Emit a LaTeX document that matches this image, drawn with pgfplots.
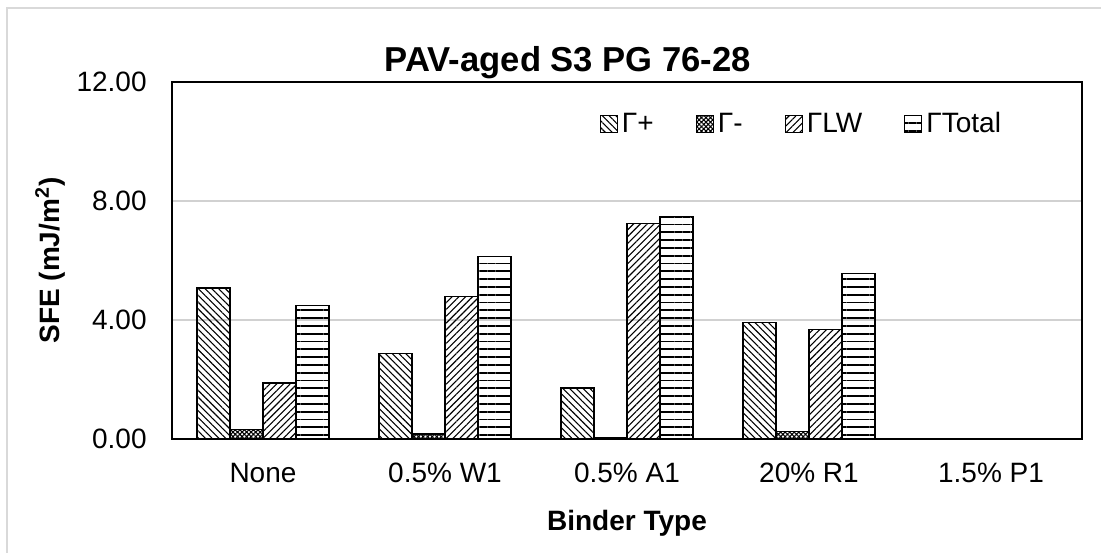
\documentclass[border=0pt]{standalone}
\usepackage{pgfplots}
\pgfplotsset{compat=1.18}
\usepackage{fontspec}
\setmainfont{Liberation Sans}
\usetikzlibrary{patterns.meta}
\begin{document}
\begin{tikzpicture}
\tikzset{
  pplus/.style={pattern={Lines[angle=-45,distance=2.4pt,line width=0.55pt]}},
  pminus/.style={pattern={Hatch[angle=45,distance=1.6pt,line width=0.55pt]}},
  plw/.style={pattern={Lines[angle=45,distance=2.4pt,line width=0.55pt]}},
  ptot/.style={pattern={Lines[angle=0,distance=3.9pt,line width=0.9pt]}},
}
\begin{axis}[
  name=ax,
  scale only axis,
  width=455pt, height=178.5pt,
  xmin=-0.5, xmax=4.5,
  ymin=0, ymax=12,
  ybar=0pt, bar width=0.181,
  xtick={0,1,2,3,4},
  xticklabels={None,0.5\% W1,0.5\% A1,20\% R1,1.5\% P1},
  ytick={0,4,8,12},
  major tick length=0pt,
  ymajorgrids,
  grid style={draw=black!18, line width=0.9pt},
  axis line style={black, line width=0.8pt},
  /pgf/number format/assume math mode=true,
  yticklabel={\pgfmathprintnumber[fixed,fixed zerofill,precision=2]{\tick}},
  ticklabel style={font=\fontsize{14}{16.8}\selectfont},
  yticklabel style={anchor=east, inner sep=0pt, xshift=-12.5pt},
  xticklabel style={anchor=base, inner sep=0pt, yshift=-21.5pt},
  xlabel={\textbf{Binder Type}},
  xlabel style={at={(axis description cs:0.5,0)}, anchor=base, yshift=-45.5pt, inner sep=0pt, font=\fontsize{14}{16.8}\selectfont},
  ylabel={\textbf{SFE (mJ/m\textsuperscript{2})}},
  ylabel style={at={(axis description cs:-0.134,0.5)}, anchor=center, inner sep=0pt, font=\fontsize{14}{16.8}\selectfont},
  title={\textbf{PAV-aged S3 PG 76-28}},
  title style={at={(axis description cs:0.435,1)}, anchor=base, yshift=-0.5pt, inner sep=0pt, font=\fontsize{17.3}{20}\selectfont},
  legend columns=4,
  legend style={draw=none, fill=none, at={(axis description cs:0.463,0.88)}, anchor=west,
    font=\fontsize{14}{16.8}\selectfont,
    /tikz/every even column/.append style={column sep=19pt},
    nodes={inner sep=2pt, text height=10.5pt, text depth=3pt}},
  legend image code/.code={\draw[#1, line width=0.6pt] (0pt,-4pt) rectangle (8.5pt,4.5pt);},
]
\addplot[draw=black, line width=0.65pt, pplus] coordinates {(0,5.08) (1,2.88) (2,1.71) (3,3.91) (4,0)};
\addplot[draw=black, line width=0.65pt, pminus] coordinates {(0,0.33) (1,0.17) (2,0.03) (3,0.25) (4,0)};
\addplot[draw=black, line width=0.65pt, plw] coordinates {(0,1.88) (1,4.79) (2,7.25) (3,3.68) (4,0)};
\addplot[draw=black, line width=0.65pt, ptot] coordinates {(0,4.48) (1,6.13) (2,7.47) (3,5.57) (4,0)};
\legend{Γ+,Γ-,ΓLW,ΓTotal}
\end{axis}
\draw[overlay, black!15, line width=1.2pt] (ax.south west) ++(-82.5pt,-70pt) -- ++(0pt,285.5pt) -- ++(620pt,0pt);
\useasboundingbox ([shift={(-86pt,-56.5pt)}]ax.south west) rectangle ([shift={(9.5pt,41pt)}]ax.north east);
\end{tikzpicture}
\end{document}
